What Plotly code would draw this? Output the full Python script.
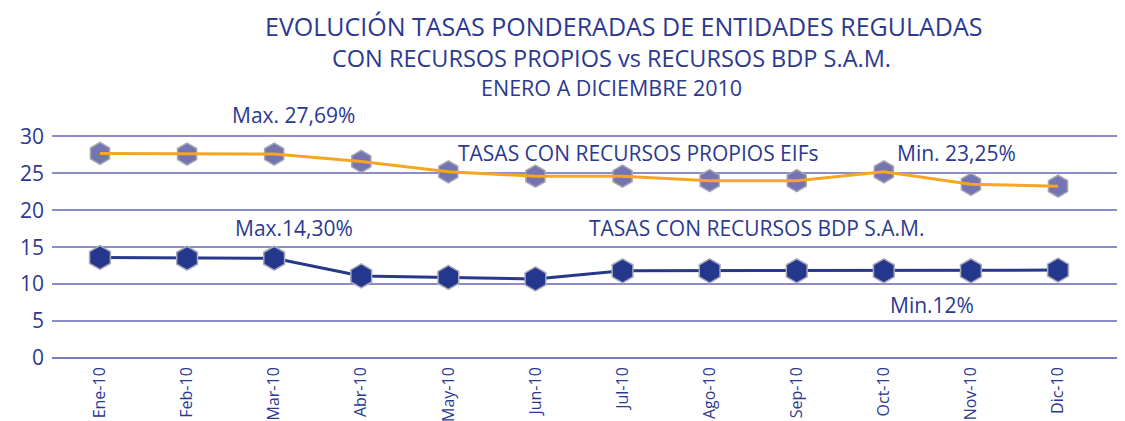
import plotly.graph_objects as go

months = ["Ene-10", "Feb-10", "Mar-10", "Abr-10", "May-10", "Jun-10",
          "Jul-10", "Ago-10", "Sep-10", "Oct-10", "Nov-10", "Dic-10"]
propios = [27.69, 27.6, 27.6, 26.6, 25.2, 24.6, 24.6, 24.0, 24.0, 25.2, 23.5, 23.25]
bdp = [13.6, 13.5, 13.5, 11.1, 10.9, 10.7, 11.8, 11.8, 11.8, 11.8, 11.8, 11.9]
yticks = [0, 5, 10, 15, 20, 25, 30]

NAVY = "#2b3990"
GRID = "#8c8cc8"
ORANGE = "#f6a623"

fig = go.Figure()

# Recursos BDP (navy)
fig.add_trace(go.Scatter(
    x=months, y=bdp, mode="lines+markers",
    line=dict(color="#26388a", width=3),
    marker=dict(symbol="hexagon", size=24, color="#23378c",
                line=dict(color="#a9a9b8", width=1.5)),
    showlegend=False, cliponaxis=False))

# Recursos propios (orange line, purple-grey hexagons)
fig.add_trace(go.Scatter(
    x=months, y=propios, mode="markers",
    marker=dict(symbol="hexagon", size=22, color="#7474b2",
                line=dict(color="#a6a6b0", width=1.5)),
    showlegend=False, cliponaxis=False))
fig.add_trace(go.Scatter(
    x=months, y=propios, mode="lines",
    line=dict(color=ORANGE, width=3),
    showlegend=False, cliponaxis=False))

ann_font = dict(family="Open Sans, Noto Sans, sans-serif", size=21, color=NAVY)
labels = [
    ("Max. 27,69%", 2.22, 32.9),
    ("TASAS CON RECURSOS PROPIOS EIFs", 6.18, 27.7),
    ("Min. 23,25%", 9.84, 27.7),
    ("Max.14,30%", 2.23, 17.6),
    ("TASAS CON RECURSOS BDP S.A.M.", 7.54, 17.6),
    ("Min.12%", 9.55, 7.2),
]
for txt, xx, yy in labels:
    fig.add_annotation(text=txt, x=xx, y=yy, xref="x", yref="y",
                       showarrow=False, font=ann_font)

title_font = "Open Sans, Noto Sans, sans-serif"
titles = [
    ("EVOLUCIÓN TASAS PONDERADAS DE ENTIDADES REGULADAS", 0.529, 1.34, 25),
    ("CON RECURSOS PROPIOS vs RECURSOS BDP S.A.M.", 0.518, 1.21, 23.5),
    ("ENERO A DICIEMBRE 2010", 0.518, 1.09, 21.5),
]
for txt, xx, yy, sz in titles:
    fig.add_annotation(text=txt, x=xx, y=yy, xref="paper", yref="paper",
                       xanchor="center", yanchor="middle", showarrow=False,
                       font=dict(family=title_font, size=sz, color=NAVY))

fig.update_layout(
    width=1125, height=421,
    margin=dict(l=44, r=0, t=102, b=71),
    paper_bgcolor="white", plot_bgcolor="white",
    xaxis=dict(type="category", range=[-0.551, 11.861], showgrid=False,
               tickangle=-90, ticks="", showline=False, zeroline=False,
               automargin=False, ticklabelstandoff=5,
               tickfont=dict(family="Open Sans, sans-serif", size=16, color=NAVY)),
    yaxis=dict(range=[0, 33.56], tickvals=yticks, showgrid=True,
               gridcolor=GRID, gridwidth=1.5, zeroline=True,
               zerolinecolor="#7a7abf", zerolinewidth=2,
               ticks="", ticklabelstandoff=7, automargin=False,
               tickfont=dict(family="Open Sans, sans-serif", size=21, color=NAVY)),
)

fig.write_html("out.html")
